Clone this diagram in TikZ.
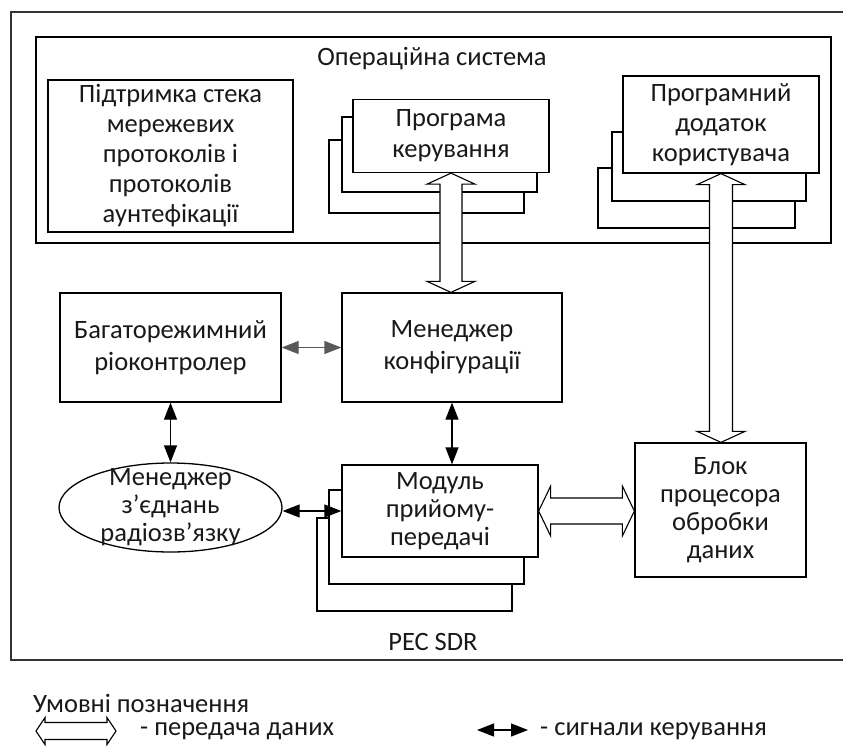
\documentclass[tikz,border=0pt]{standalone}
\usepackage{fontspec}
\setmainfont{Carlito}
\usetikzlibrary{arrows.meta,calc,shapes.geometric}

\tikzset{
  box/.style={draw, line width=1.3pt, fill=white, inner sep=0pt},
  lbl/.style={align=center, font=\fontsize{26.5}{29.5}\selectfont, inner sep=0pt, text=black!90},
  ctrl/.style={{Triangle[length=17pt,width=13pt]}-{Triangle[length=17pt,width=13pt]}, line width=1.3pt},
  hollow/.style={draw, line width=1.1pt, fill=white, line join=miter},
  frame/.style={draw=black!80, line width=1.8pt},
}

% wide hollow double arrow, vertical: #1 upper tip, #2 lower tip
\newcommand\fatV[5]{%
  \draw[hollow] (#1) -- ($(#1)+(#3,#5)$) -- ($(#1)+(#4,#5)$) -- ($(#2)+(#4,-#5)$)
    -- ($(#2)+(#3,-#5)$) -- (#2) -- ($(#2)+(-#3,-#5)$) -- ($(#2)+(-#4,-#5)$)
    -- ($(#1)+(-#4,#5)$) -- ($(#1)+(-#3,#5)$) -- cycle;}
% wide hollow double arrow, horizontal: #1 left tip, #2 right tip
\newcommand\fatH[5]{%
  \draw[hollow] (#1) -- ($(#1)+(#5,-#3)$) -- ($(#1)+(#5,-#4)$) -- ($(#2)+(-#5,-#4)$)
    -- ($(#2)+(-#5,-#3)$) -- (#2) -- ($(#2)+(-#5,#3)$) -- ($(#2)+(-#5,#4)$)
    -- ($(#1)+(#5,#4)$) -- ($(#1)+(#5,#3)$) -- cycle;}

\begin{document}
\begin{tikzpicture}[x=1pt, y=-1pt]
  \useasboundingbox (0,0) rectangle (843,745);

  % outer frame of the radio system
  \draw[frame] (843,12) -- (11,12) -- (11,660) -- (843,660);

  % operating system
  \node[box, minimum width=795pt, minimum height=206pt] (os) at (433.5,140) {};
  \node[lbl] (ostitle) at (432,59) {Операційна система};

  \node[box, minimum width=245pt, minimum height=152pt, lbl, font=\fontsize{26.5}{30}\selectfont]
    (sup) at (170.5,156)
    {Підтримка стека\\мережевих\\протоколів і\\протоколів\\аунтефікації};

  % control program stack
  \node[box, minimum width=195pt, minimum height=73pt] (prog3) at (426.5,176.5) {};
  \node[box, minimum width=195pt, minimum height=75pt] (prog2) at (439.5,154.5) {};
  \node[box, minimum width=196pt, minimum height=73pt, lbl, font=\fontsize{26.5}{31}\selectfont]
    (prog) at (451,136) {Програма\\керування};

  % user application stack
  \node[box, minimum width=197pt, minimum height=60pt] (app3) at (696.5,198) {};
  \node[box, minimum width=194pt, minimum height=69pt] (app2) at (709,166.5) {};
  \node[box, minimum width=196pt, minimum height=97pt, lbl, font=\fontsize{26.5}{30}\selectfont]
    (app) at (721,124.5) {Програмний\\додаток\\користувача};

  % controllers
  \node[box, minimum width=221pt, minimum height=109pt, lbl, font=\fontsize{26.5}{32}\selectfont]
    (multi) at (170.5,347.5) {Багаторежимний\\ріоконтролер};
  \node[box, minimum width=220pt, minimum height=109pt, lbl, font=\fontsize{26.5}{32}\selectfont]
    (cfg) at (452,347.5) {Менеджер\\конфігурації};

  % radio link manager
  \node[draw, ellipse, line width=1.3pt, minimum width=223pt, minimum height=89pt, inner sep=0pt]
    (radio) at (170.5,507.5) {};
  \node[lbl, font=\fontsize{26.5}{28}\selectfont] (radiotxt) at (radio.center)
    {Менеджер\\з’єднань\\радіозв’язку};

  % transceiver module stack
  \node[box, minimum width=195pt, minimum height=93pt] (mod3) at (414.5,564.5) {};
  \node[box, minimum width=195pt, minimum height=94pt] (mod2) at (426.5,537) {};
  \node[box, minimum width=196pt, minimum height=92pt, lbl, font=\fontsize{26.5}{28}\selectfont]
    (mod) at (440,511) {Модуль\\прийому-\\передачі};

  % data processor
  \node[box, minimum width=171pt, minimum height=134pt, lbl, font=\fontsize{26.5}{27.8}\selectfont]
    (blok) at (720.5,510) {Блок\\процесора\\обробки\\даних};

  \node[lbl] (sdr) at (433,642) {РЕС SDR};

  % data transfer
  \fatV{prog.south}{prog.south |- cfg.north}{24}{11}{11}
  \fatV{app.south}{app.south |- blok.north}{24}{11.5}{11}
  \fatH{mod.east}{mod.east -| blok.west}{25}{13}{12}

  % control signals
  \draw[ctrl, draw=black!65, fill=black!75] (multi.east) -- (cfg.west);
  \draw[ctrl] (multi.south) -- (radio.north);
  \draw[ctrl] (cfg.south) -- (cfg.south |- mod.north);
  \draw[ctrl] (mod.west -| radio.east) -- (mod.west);

  % legend
  \node[lbl, anchor=west] (legtitle) at (33,703) {Умовні позначення};
  \coordinate (legA) at (36,731);
  \coordinate (legB) at (116,731);
  \fatH{legA}{legB}{13.5}{8.5}{9}
  \node[lbl, anchor=west] (legdata) at (140,731) {- передача даних};
  \coordinate (legC) at (477,730);
  \coordinate (legD) at (528,730);
  \draw[ctrl] (legC) -- (legD);
  \node[lbl, anchor=west] (legctrl) at (540,731) {- сигнали керування};
\end{tikzpicture}
\end{document}
